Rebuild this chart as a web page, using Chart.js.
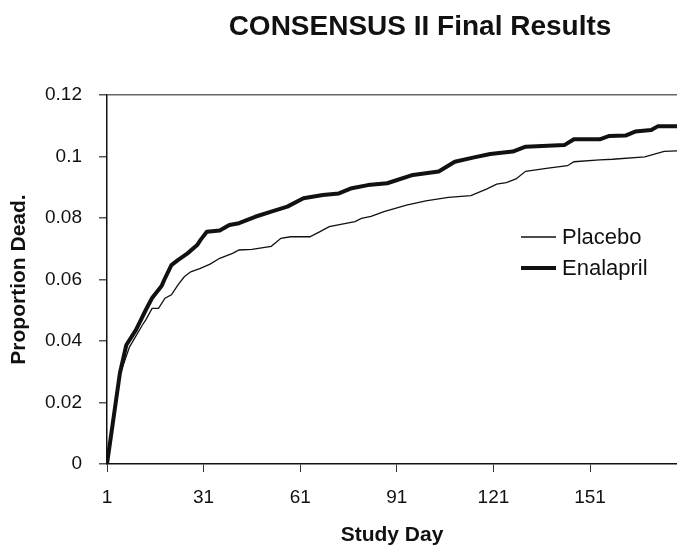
<!DOCTYPE html>
<html>
<head>
<meta charset="utf-8">
<title>CONSENSUS II Final Results</title>
<script src="https://cdn.jsdelivr.net/npm/chart.js@4/dist/chart.umd.min.js"></script>
<style>
  html, body { margin: 0; padding: 0; background: #fff; }
  #wrap { width: 677px; height: 546px; }
</style>
</head>
<body>
<div id="wrap"><canvas id="chart" width="677" height="546"></canvas></div>
<script>
// values (study day, proportion dead)
const placeboDays = [1, 5, 8, 12, 13, 15, 17, 19, 21, 23, 25, 27, 30, 33, 36, 40, 42, 46, 52, 55, 58, 64, 67, 70, 78, 80, 83, 87, 94, 100, 107, 114, 119, 122, 125, 128, 131, 138, 144, 146, 154, 158, 168, 174, 180];
const placeboValues = [0, 0.029, 0.0381, 0.0452, 0.0468, 0.0506, 0.0506, 0.0539, 0.055, 0.0582, 0.0609, 0.0625, 0.0636, 0.065, 0.0669, 0.0685, 0.0696, 0.0698, 0.0708, 0.0734, 0.0739, 0.0739, 0.0755, 0.0772, 0.0788, 0.0799, 0.0805, 0.0821, 0.0842, 0.0856, 0.0867, 0.0873, 0.0895, 0.091, 0.0915, 0.0927, 0.0952, 0.0962, 0.097, 0.0983, 0.0989, 0.0991, 0.0999, 0.1017, 0.1019];

const enalaprilDays = [1, 5, 7, 10, 13, 15, 18, 19, 21, 23, 26, 29, 30, 32, 36, 39, 42, 47, 52, 57, 62, 68, 73, 77, 82, 88, 96, 104, 109, 115, 120, 127, 131, 143, 146, 154, 157, 162, 165, 170, 172, 180];
const enalaprilValues = [0, 0.0295, 0.0387, 0.0436, 0.05, 0.054, 0.058, 0.0604, 0.0647, 0.0663, 0.0685, 0.0712, 0.0728, 0.0755, 0.0759, 0.0777, 0.0783, 0.0804, 0.0821, 0.0837, 0.0864, 0.0875, 0.088, 0.0897, 0.0907, 0.0913, 0.094, 0.0951, 0.0983, 0.0997, 0.1008, 0.1016, 0.1032, 0.1037, 0.1056, 0.1056, 0.1067, 0.1068, 0.1081, 0.1086, 0.1098, 0.1098];

const xTicks = [1, 31, 61, 91, 121, 151];
const yTicks = [0, 0.02, 0.04, 0.06, 0.08, 0.1, 0.12];

const chartTitle = 'CONSENSUS II Final Results';

const FONT = '"Liberation Sans", Arial, sans-serif';
const INK = '#111';

function toPoints(days, values) {
    return days.map((d, i) => ({ x: d, y: values[i] }));
}

// title sits right of centre in the original, so draw it by hand
const offsetTitle = {
    id: 'offsetTitle',
    afterDraw(chart) {
        const ctx = chart.ctx;
        ctx.save();
        ctx.font = `bold 28px ${FONT}`;
        ctx.fillStyle = INK;
        ctx.textAlign = 'center';
        ctx.textBaseline = 'alphabetic';
        ctx.fillText(chartTitle, 420, 35);
        ctx.restore();
    }
};

// legend drawn inside the plot, to the right like the original
const insideLegend = {
    id: 'insideLegend',
    afterDraw(chart) {
        const ctx = chart.ctx;
        ctx.save();
        ctx.font = `22px ${FONT}`;
        ctx.textBaseline = 'middle';
        chart.data.datasets.forEach((ds, i) => {
            const y = 237 + i * 31;
            ctx.strokeStyle = ds.borderColor;
            ctx.lineWidth = ds.borderWidth;
            ctx.beginPath();
            ctx.moveTo(521, y);
            ctx.lineTo(556, y);
            ctx.stroke();
            ctx.fillStyle = INK;
            ctx.fillText(ds.label, 562, y + 1);
        });
        ctx.restore();
    }
};

new Chart(document.getElementById('chart'), {
    type: 'line',
    data: {
        datasets: [{
            label: 'Placebo',
            data: toPoints(placeboDays, placeboValues),
            borderColor: INK,
            borderWidth: 1.3,
            pointRadius: 0,
            tension: 0
        }, {
            label: 'Enalapril',
            data: toPoints(enalaprilDays, enalaprilValues),
            borderColor: INK,
            borderWidth: 4,
            pointRadius: 0,
            tension: 0,
            borderJoinStyle: 'round'
        }]
    },
    options: {
        responsive: false,
        animation: false,
        layout: { padding: { top: 95, left: 0, right: 0, bottom: 0 } },
        plugins: {
            legend: { display: false },
            tooltip: { enabled: false },
            title: { display: false }
        },
        scales: {
            x: {
                type: 'linear',
                min: 1,
                max: 178,
                afterBuildTicks: (scale) => { scale.ticks = xTicks.map((v) => ({ value: v })); },
                afterFit: (scale) => { scale.height = 82; },
                border: { display: true, color: INK, width: 1.5 },
                grid: { drawOnChartArea: false, tickLength: 8, tickColor: '#333', color: '#333' },
                ticks: { color: INK, font: { family: FONT, size: 19 }, padding: 14, maxRotation: 0, autoSkip: false },
                title: {
                    display: true,
                    text: 'Study Day',
                    color: INK,
                    font: { family: FONT, size: 21, weight: 'bold', lineHeight: 1 },
                    padding: { top: 0, bottom: 0 }
                }
            },
            y: {
                min: 0,
                max: 0.12,
                afterBuildTicks: (scale) => { scale.ticks = yTicks.map((v) => ({ value: v })); },
                afterFit: (scale) => { scale.width = 107; },
                border: { display: true, color: INK, width: 1.5 },
                grid: {
                    tickLength: 8,
                    tickColor: '#555',
                    lineWidth: 1.5,
                    color: (c) => (c.tick && Math.abs(c.tick.value - 0.12) < 1e-9 ? '#666' : 'transparent')
                },
                ticks: {
                    color: INK,
                    font: { family: FONT, size: 19 },
                    padding: 17,
                    callback: (v) => String(Number(v.toFixed(2)))
                },
                title: {
                    display: true,
                    text: 'Proportion Dead.',
                    color: INK,
                    font: { family: FONT, size: 21, weight: 'bold', lineHeight: 1.2 },
                    padding: { top: 7, bottom: 0 }
                }
            }
        }
    },
    plugins: [offsetTitle, insideLegend]
});
</script>
</body>
</html>
